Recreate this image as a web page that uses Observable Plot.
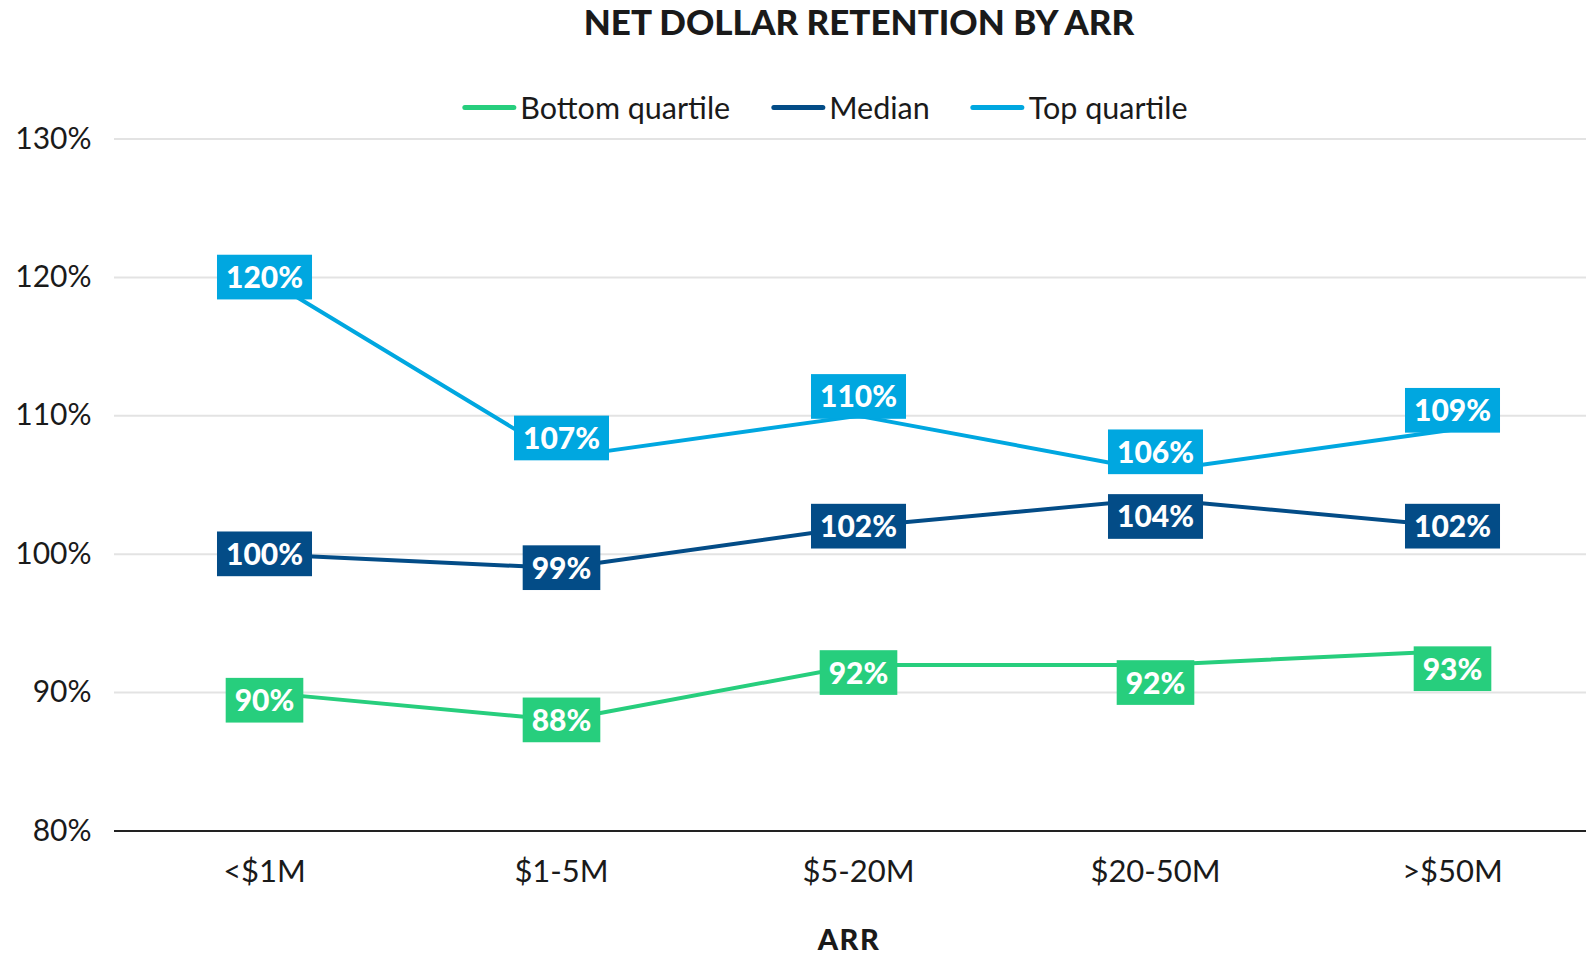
<!DOCTYPE html>
<html><head><meta charset="utf-8">
<script src="https://cdn.jsdelivr.net/npm/d3@7"></script>
<script src="https://cdn.jsdelivr.net/npm/@observablehq/plot@0.6"></script>
<style>
body{margin:0;background:#fff;font-family:Lato,"Open Sans",sans-serif;color:#1a1a1a;}
#wrap{position:relative;width:1586px;height:956px;overflow:hidden}
#title{position:absolute;left:859px;top:4px;transform:translateX(-50%);font-weight:900;font-size:35px;white-space:nowrap;line-height:1}
#legend{position:absolute;left:825px;top:92px;transform:translateX(-50%);display:flex;align-items:center;white-space:nowrap;font-size:30.5px;line-height:1}
.item{display:flex;align-items:center;margin-right:41px}
.item:last-child{margin-right:0}
.sw{width:54px;height:5px;border-radius:3px;margin-right:4px}
#xlabel{position:absolute;left:849px;top:923.5px;transform:translateX(-50%);font-weight:900;font-size:29px;letter-spacing:1.5px;line-height:1}
#chart{position:absolute;left:0;top:0}
</style></head>
<body>
<div id="wrap">
  <div id="chart"></div>
  <div id="title"></div>
  <div id="legend"></div>
  <div id="xlabel"></div>
</div>
<script>
const titleText = "NET DOLLAR RETENTION BY ARR";
const xAxisTitle = "ARR";
const categories = ["<$1M", "$1-5M", "$5-20M", "$20-50M", ">$50M"];
const seriesNames = ["Bottom quartile", "Median", "Top quartile"];
const bottomQuartile = [90, 88, 92, 92, 93];
const median = [100, 99, 102, 104, 102];
const topQuartile = [120, 107, 110, 106, 109];
const yTicks = [80, 90, 100, 110, 120, 130];
// label placement relative to point: c = centered, a = above, b = below, s = slightly below
const bottomLabelPlace = ["s", "c", "s", "b", "b"];
const medianLabelPlace = ["c", "c", "c", "b", "c"];
const topLabelPlace = ["c", "a", "a", "a", "a"];

const colors = ["#27CE7D", "#034C87", "#00A7E0"];
const seriesValues = [bottomQuartile, median, topQuartile];
const seriesPlace = [bottomLabelPlace, medianLabelPlace, topLabelPlace];
const placeDy = {c: 1, a: -18, b: 19, s: 9};

document.getElementById("title").textContent = titleText;
document.getElementById("xlabel").textContent = xAxisTitle;
const legend = document.getElementById("legend");
seriesNames.forEach((n, i) => {
  const it = document.createElement("div"); it.className = "item";
  const sw = document.createElement("div"); sw.className = "sw"; sw.style.background = colors[i];
  const t = document.createElement("span"); t.textContent = n;
  it.appendChild(sw); it.appendChild(t); legend.appendChild(it);
});

const rows = [];
seriesNames.forEach((s, i) => categories.forEach((c, j) => rows.push({series: s, si: i, cat: c, value: seriesValues[i][j], place: seriesPlace[i][j]})));

const marks = [
  Plot.ruleY(yTicks.filter(d => d > yTicks[0]), {stroke: "#e3e3e3", strokeWidth: 2}),
  Plot.ruleY([yTicks[0]], {stroke: "#222", strokeWidth: 2}),
  Plot.axisY({ticks: yTicks, tickSize: 0, tickPadding: 23, fontSize: 30, tickFormat: d => d + "%", fill: "#1a1a1a"}),
  Plot.axisX({tickSize: 0, tickPadding: 29, fontSize: 31, fill: "#1a1a1a", label: null})
];
seriesNames.forEach((s, i) => {
  marks.push(Plot.line(rows.filter(r => r.si === i), {x: "cat", y: "value", stroke: colors[i], strokeWidth: 4, strokeLinejoin: "miter"}));
});
seriesNames.forEach((s, i) => {
  Object.keys(placeDy).forEach(p => {
    const d = rows.filter(r => r.si === i && r.place === p);
    if (!d.length) return;
    marks.push(Plot.text(d, {x: "cat", y: "value", text: r => Math.round(r.value) + "%", dy: placeDy[p], fill: "white", fontSize: 30, fontWeight: 900, ariaDescription: "lbl-" + i}));
  });
});

const chart = Plot.plot({
  width: 1586, height: 956,
  marginLeft: 114, marginRight: 0, marginTop: 138.6, marginBottom: 125.5,
  style: {fontFamily: "Lato, 'Open Sans', sans-serif", background: "white", overflow: "visible"},
  x: {type: "point", domain: categories, range: [263, 1452], padding: 0, label: null},
  y: {domain: [yTicks[0], yTicks[yTicks.length - 1]], label: null},
  marks
});
document.getElementById("chart").appendChild(chart);

// add filled boxes behind the data labels
const NS = "http://www.w3.org/2000/svg";
seriesNames.forEach((s, i) => {
  chart.querySelectorAll(`g[aria-description="lbl-${i}"]`).forEach(g => {
    const texts = Array.from(g.querySelectorAll("text"));
    const gctm = g.getCTM();
    texts.forEach(t => {
      const b = t.getBBox();
      const tctm = t.getCTM();
      const rel = gctm.inverse().multiply(tctm);
      const cx = rel.a * (b.x + b.width / 2) + rel.e;
      const cy = rel.d * (b.y + b.height / 2) + rel.f;
      const w = b.width + 18, h = 44.7;
      const r = document.createElementNS(NS, "rect");
      r.setAttribute("x", cx - w / 2); r.setAttribute("y", cy - h / 2 + 1);
      r.setAttribute("width", w); r.setAttribute("height", h);
      r.setAttribute("fill", colors[i]);
      g.insertBefore(r, g.firstChild);
    });
  });
});
</script>
</body></html>
